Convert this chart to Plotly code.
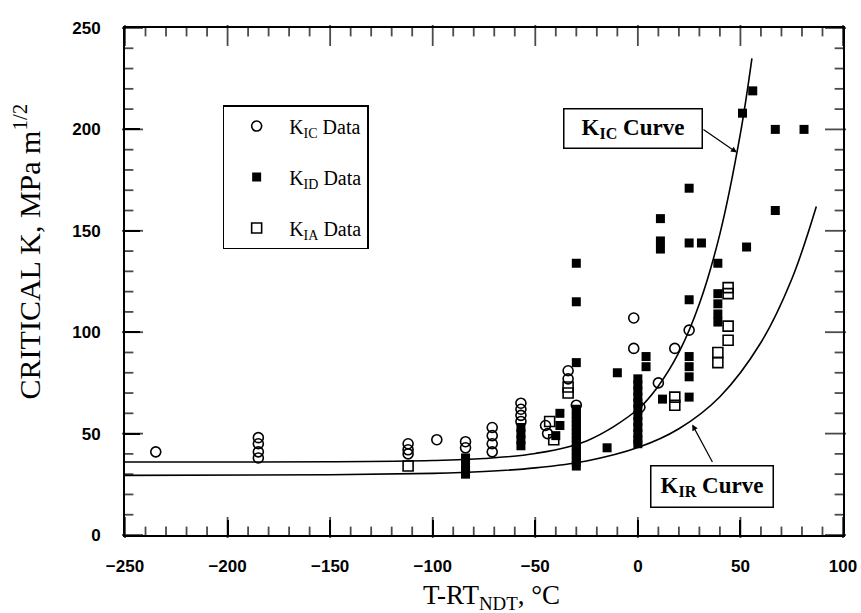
import plotly.graph_objects as go

# ---- data ----
kic_x = [-235, -185, -185, -185, -185, -112, -112, -112, -98, -84, -84,
         -71, -71, -71, -71, -57, -57, -57, -57, -45, -44, -34, -34, -30,
         -2, -2, 1, 10, 18, 25]
kic_y = [41, 48, 45, 41, 38, 45, 42, 40, 47, 46, 43,
         53, 49, 45, 41, 65, 62, 59, 56, 54, 50, 81, 77, 64,
         107, 92, 63, 75, 92, 101]

kid_x = ([-84] * 4 + [-57] * 4 + [-40, -38, -38] + [-30] * 18 + [-15, -10]
         + [0] * 12 + [4, 4] + [11, 11, 11, 12] + [25] * 7 + [31] + [39] * 5
         + [51, 53, 56, 67, 67, 81])
kid_y = ([38, 35, 32, 30] + [53, 50, 47, 44] + [49, 60, 54]
         + [134, 115, 85, 62, 60, 58, 56, 54, 52, 50, 48, 46, 44, 42, 40, 38, 36, 34]
         + [43, 80]
         + [77, 74, 71, 68, 65, 62, 59, 56, 53, 50, 47, 45]
         + [88, 83] + [156, 145, 141, 67] + [171, 144, 116, 88, 83, 78, 68]
         + [144] + [134, 119, 114, 109, 105]
         + [208, 142, 219, 200, 160, 200])

kia_x = [-112, -43, -41, -34, -34, 18, 18, 39, 39, 44, 44, 44, 44]
kia_y = [34, 56, 47, 73, 70, 68, 64, 90, 85, 122, 119, 103, 96]

kic_curve_x = [-250, -200, -150, -100, -75, -50, -25, 0, 10, 20, 30, 40, 50, 55.6]
kic_curve_y = [36, 36, 36.1, 36.7, 37.7, 40.2, 46.4, 62, 73.5, 90, 114, 148.5, 198, 235]
kir_curve_x = [-250, -150, -100, -75, -50, -25, 0, 20, 40, 60, 75, 87]
kir_curve_y = [29.4, 29.7, 30.4, 31.3, 33.1, 36.5, 43.1, 52.4, 68.2, 94.9, 126.1, 162]

# axis ticks
x_range = [-250, 100]
y_range = [0, 250]
x_major = [-250, -200, -150, -100, -50, 0, 50, 100]
y_major = [0, 50, 100, 150, 200, 250]
minor_step = 10
x_minor = [v for v in range(x_range[0], x_range[1] + 1, minor_step) if v not in x_major]
y_minor = [v for v in range(y_range[0], y_range[1] + 1, minor_step) if v not in y_major]

SERIF = "Liberation Serif"
SANS = "Liberation Sans"

W, H = 861, 613
M_L, M_R, M_T, M_B = 125, 18, 28, 78
PLOT_W, PLOT_H = W - M_L - M_R, H - M_T - M_B
MAJOR_LEN, MINOR_LEN = 15, 7  # px

fig = go.Figure()

fig.add_trace(go.Scatter(x=kic_curve_x, y=kic_curve_y, mode="lines",
                         line=dict(color="black", width=1.6, shape="spline"),
                         showlegend=False, hoverinfo="skip"))
fig.add_trace(go.Scatter(x=kir_curve_x, y=kir_curve_y, mode="lines",
                         line=dict(color="black", width=1.6, shape="spline"),
                         showlegend=False, hoverinfo="skip"))

# tick marks on all four sides, drawn as line-shaped markers at the tick values
x_span = x_range[1] - x_range[0]
y_span = y_range[1] - y_range[0]
vx, vy, vs = [], [], []
for vals, length in ((x_major, MAJOR_LEN), (x_minor, MINOR_LEN)):
    half = length / 2 / PLOT_H * y_span
    for v in vals:
        vx += [v, v]
        vy += [y_range[0] + half, y_range[1] - half]
        vs += [length, length]
hx, hy, hs = [], [], []
for vals, length in ((y_major, MAJOR_LEN), (y_minor, MINOR_LEN)):
    half = length / 2 / PLOT_W * x_span
    for v in vals:
        hx += [x_range[0] + half, x_range[1] - half]
        hy += [v, v]
        hs += [length, length]
fig.add_trace(go.Scatter(x=vx, y=vy, mode="markers", showlegend=False, hoverinfo="skip",
                         cliponaxis=False,
                         marker=dict(symbol="line-ns", size=vs, color="black",
                                     line=dict(width=1.8, color="black"))))
fig.add_trace(go.Scatter(x=hx, y=hy, mode="markers", showlegend=False, hoverinfo="skip",
                         cliponaxis=False,
                         marker=dict(symbol="line-ew", size=hs, color="black",
                                     line=dict(width=1.8, color="black"))))

fig.add_trace(go.Scatter(x=kic_x, y=kic_y, mode="markers", name="K<sub>IC</sub> Data",
                         legendgroup="a",
                         marker=dict(symbol="circle-open", size=10, color="black",
                                     line=dict(width=1.6, color="black"))))
fig.add_trace(go.Scatter(x=kid_x, y=kid_y, mode="markers", name="K<sub>ID</sub> Data",
                         legendgroup="b",
                         marker=dict(symbol="square", size=9, color="black")))
fig.add_trace(go.Scatter(x=kia_x, y=kia_y, mode="markers", name="K<sub>IA</sub> Data",
                         legendgroup="c",
                         marker=dict(symbol="square-open", size=10, color="black",
                                     line=dict(width=1.6, color="black"))))

tick_font = dict(family=SANS, size=17, color="black", weight="bold")
axis_common = dict(showgrid=False, zeroline=False, showline=True, linecolor="black",
                   linewidth=1.8, mirror=True, automargin=False,
                   ticks="inside", ticklen=MAJOR_LEN, tickwidth=1.6, tickcolor="black",
                   tickfont=tick_font)

fig.update_layout(
    template="none",
    xaxis=dict(range=x_range, tickmode="array", tickvals=x_major,
               ticklabelstandoff=15, **axis_common),
    yaxis=dict(range=y_range, tickmode="array", tickvals=y_major,
               ticklabelstandoff=19, **axis_common),
)

annotations = [
    # y axis title
    dict(text="CRITICAL K, MPa m<sup>1/2</sup>", xref="paper", yref="paper",
         x=-0.136, y=0.56, xanchor="center", yanchor="middle", textangle=-90,
         showarrow=False, font=dict(family=SERIF, size=30, color="black")),
    # x axis title
    dict(text="T-RT<sub>NDT</sub>, °C", xref="paper", yref="paper",
         x=0.51, y=-0.122, xanchor="center", yanchor="middle",
         showarrow=False, font=dict(family=SERIF, size=27, color="black")),
    # KIC curve label box
    dict(text="K<sub>IC</sub> Curve", xref="x", yref="y", x=-2.4, y=200.5,
         xanchor="center", yanchor="middle", showarrow=False,
         bordercolor="black", borderwidth=1.5, borderpad=3, bgcolor="white",
         width=131, height=32,
         font=dict(family=SERIF, size=23, color="black", weight="bold")),
    # KIC arrow
    dict(text="", xref="x", yref="y", x=48.3, y=188.6, ax=-35, ay=-24,
         showarrow=True, arrowhead=2, arrowsize=1, arrowwidth=1.2, arrowcolor="black"),
    # KIR curve label box
    dict(text="K<sub>IR</sub> Curve", xref="x", yref="y", x=36.1, y=24.1,
         xanchor="center", yanchor="middle", showarrow=False,
         bordercolor="black", borderwidth=1.5, borderpad=3, bgcolor="white",
         width=115, height=34,
         font=dict(family=SERIF, size=23, color="black", weight="bold")),
    # KIR arrow
    dict(text="", xref="x", yref="y", x=26.5, y=54.5, ax=21, ay=39,
         showarrow=True, arrowhead=2, arrowsize=1, arrowwidth=1.2, arrowcolor="black"),
]

fig.update_layout(
    width=W, height=H,
    margin=dict(l=M_L, r=M_R, t=M_T, b=M_B),
    paper_bgcolor="white", plot_bgcolor="white",
    annotations=annotations,
    legend=dict(x=0.136, y=0.848, xanchor="left", yanchor="top",
                bordercolor="black", borderwidth=1.5, bgcolor="white",
                font=dict(family=SERIF, size=20, color="black"),
                traceorder="grouped", tracegroupgap=22, itemwidth=55),
)

fig.write_html("out.html", config={"displayModeBar": False},
               post_script="document.body.style.margin='0';document.body.style.overflow='hidden';")
